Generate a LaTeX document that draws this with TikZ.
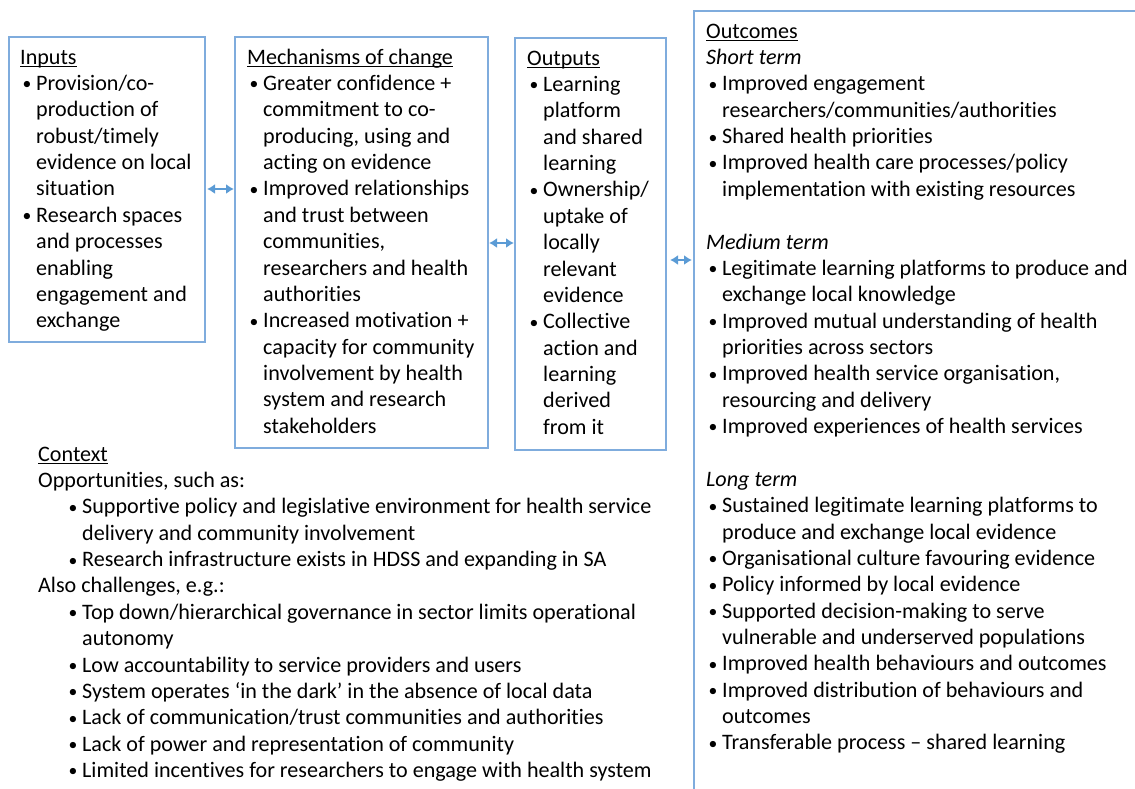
\documentclass[tikz,border=0pt]{standalone}
\usepackage{fontspec}
\setmainfont{Carlito}[Ligatures=NoCommon]
\usetikzlibrary{arrows.meta}

\definecolor{boxline}{HTML}{7FACDD}
\definecolor{linkblue}{HTML}{5B9BD5}
\newcommand\uln[1]{\setbox0\hbox{#1}\rlap{\rule[-2.8pt]{\wd0}{1.1pt}}\box0}
\newcommand\bitem{\makebox[16pt][l]{\hspace*{2.5pt}\raisebox{0.6pt}{\scalebox{0.8}{\textbullet}}}}
\newcommand\bcont{\hspace*{16pt}}

\begin{document}
\begin{tikzpicture}[x=1pt, y=-1pt,
    box/.style={draw=boxline, line width=1.3pt, anchor=north west, inner sep=0pt, outer sep=0pt},
    txt/.style={anchor=north west, align=left, inner sep=0pt, font=\fontsize{22.1pt}{26.36pt}\selectfont},
    link/.style={draw=linkblue, line width=2pt, {Latex[length=8pt,width=10pt]}-{Latex[length=8pt,width=10pt]}}]
    \useasboundingbox (0,0) rectangle (1135,788);
    \clip (0,0) rectangle (1135,788);

    % boxes
    \node[box, minimum width=196pt, minimum height=305pt] (inputs) at (9,37) {};
    \node[box, minimum width=253pt, minimum height=411pt] (mechs) at (235,37) {};
    \node[box, minimum width=151pt, minimum height=412pt] (outputs) at (515,38) {};
    \node[box, minimum width=450pt, minimum height=800pt] (outcomes) at (694,11) {};

    % texts (first line carries a strut, so north = baseline - 18.45)
    \node[txt] (inputstxt) at (20,45.5) {\strut\uln{Inputs}\\
        \bitem Provision/co-\\
        \bcont production of\\
        \bcont robust/timely\\
        \bcont evidence on local\\
        \bcont situation\\
        \bitem Research spaces\\
        \bcont and processes\\
        \bcont enabling\\
        \bcont engagement and\\
        \bcont exchange};
    \node[txt] (mechstxt) at (247,45.5) {\strut\uln{Mechanisms of change}\\
        \bitem Greater confidence +\\
        \bcont commitment to co-\\
        \bcont producing, using and\\
        \bcont acting on evidence\\
        \bitem Improved relationships\\
        \bcont and trust between\\
        \bcont communities,\\
        \bcont researchers and health\\
        \bcont authorities\\
        \bitem Increased motivation +\\
        \bcont capacity for community\\
        \bcont involvement by health\\
        \bcont system and research\\
        \bcont stakeholders};
    \node[txt] (outputstxt) at (527,46.5) {\strut\uln{Outputs}\\
        \bitem Learning\\
        \bcont platform\\
        \bcont and shared\\
        \bcont learning\\
        \bitem Ownership/\\
        \bcont uptake of\\
        \bcont locally\\
        \bcont relevant\\
        \bcont evidence\\
        \bitem Collective\\
        \bcont action and\\
        \bcont learning\\
        \bcont derived\\
        \bcont from it};
    \node[txt] (outcomestxt) at (706,19.5) {\strut\uln{Outcomes}\\
        \textit{Short term}\\
        \bitem Improved engagement\\
        \bcont researchers/communities/authorities\\
        \bitem Shared health priorities\\
        \bitem Improved health care processes/policy\\
        \bcont implementation with existing resources\\[26.36pt]
        \textit{Medium term}\\
        \bitem Legitimate learning platforms to produce and\\
        \bcont exchange local knowledge\\
        \bitem Improved mutual understanding of health\\
        \bcont priorities across sectors\\
        \bitem Improved health service organisation,\\
        \bcont resourcing and delivery\\
        \bitem Improved experiences of health services\\[26.36pt]
        \textit{Long term}\\
        \bitem Sustained legitimate learning platforms to\\
        \bcont produce and exchange local evidence\\
        \bitem Organisational culture favouring evidence\\
        \bitem Policy informed by local evidence\\
        \bitem Supported decision-making to serve\\
        \bcont vulnerable and underserved populations\\
        \bitem Improved health behaviours and outcomes\\
        \bitem Improved distribution of behaviours and\\
        \bcont outcomes\\
        \bitem Transferable process – shared learning};
    \node[txt] (context) at (38,442.5) {\strut\uln{Context}\\
        Opportunities, such as:\\
        \hspace*{28pt}\bitem Supportive policy and legislative environment for health service\\
        \hspace*{28pt}\bcont delivery and community involvement\\
        \hspace*{28pt}\bitem Research infrastructure exists in HDSS and expanding in SA\\
        Also challenges, e.g.:\\
        \hspace*{28pt}\bitem Top down/hierarchical governance in sector limits operational\\
        \hspace*{28pt}\bcont autonomy\\
        \hspace*{28pt}\bitem Low accountability to service providers and users\\
        \hspace*{28pt}\bitem System operates ‘in the dark’ in the absence of local data\\
        \hspace*{28pt}\bitem Lack of communication/trust communities and authorities\\
        \hspace*{28pt}\bitem Lack of power and representation of community\\
        \hspace*{28pt}\bitem Limited incentives for researchers to engage with health system};

    % links
    \coordinate (y1) at (0,189);
    \coordinate (y2) at (0,243);
    \coordinate (y3) at (0,260);
    \draw[link, shorten <=2pt, shorten >=1pt] (inputs.east |- y1) -- (mechs.west |- y1);
    \draw[link, shorten <=1pt, shorten >=1pt] (mechs.east |- y2) -- (outputs.west |- y2);
    \draw[link, shorten <=4pt, shorten >=2pt] (outputs.east |- y3) -- (outcomes.west |- y3);
\end{tikzpicture}
\end{document}
